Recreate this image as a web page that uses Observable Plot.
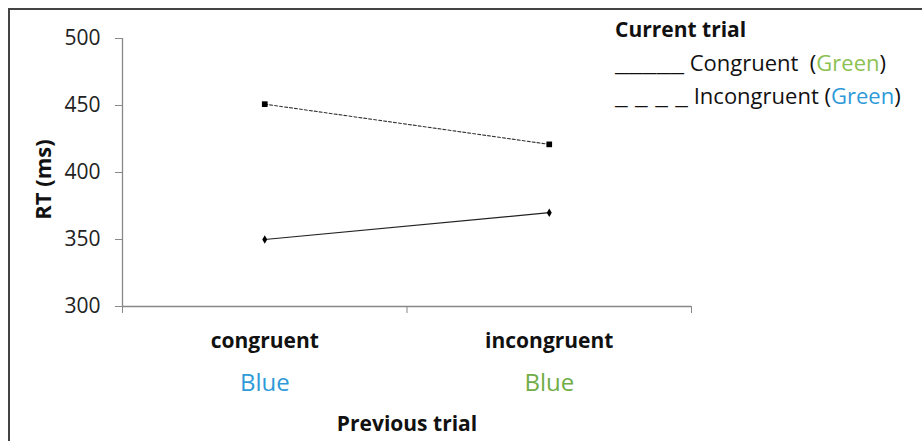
<!DOCTYPE html>
<html>
<head>
<meta charset="utf-8">
<script src="https://cdn.jsdelivr.net/npm/d3@7"></script>
<script src="https://cdn.jsdelivr.net/npm/@observablehq/plot@0.6"></script>
<style>
  html, body { margin: 0; padding: 0; background: #fff; }
  #wrap { position: relative; width: 922px; height: 441px; overflow: hidden; font-family: "Open Sans", sans-serif; }
  #frame { position: absolute; left: 8px; top: 8px; width: 930px; height: 460px; border-left: 2px solid #444; border-top: 2px solid #444; box-sizing: border-box; pointer-events: none; }
  #legend { position: absolute; left: 615px; top: 13px; font-size: 22px; line-height: 33px; color: #111; white-space: pre; }
  #legend .t { font-weight: bold; font-size: 21px; }
  #legend .lead { display: inline-block; transform-origin: left center; }
</style>
</head>
<body>
<div id="wrap">
  <div id="chart"></div>
  <div id="frame"></div>
  <div id="legend"></div>
</div>
<script>
// ---- data ----
const categories = ["congruent", "incongruent"];
const colorWords = ["Blue", "Blue"];
const colorWordColors = ["#2e9ad8", "#71ad47"];
const congruentRT = [350, 370];     // current trial congruent (solid)
const incongruentRT = [451, 421];   // current trial incongruent (dotted)
const yTicks = [300, 350, 400, 450, 500];
const legendTitle = "Current trial";
const legendItems = [
  {lead: "_____", prefix: " Congruent  (", word: "Green", suffix: ")", color: "#8cc152", leadWidth: 69},
  {lead: "_ _ _ _", prefix: " Incongruent (", word: "Green", suffix: ")", color: "#2e9ad8", leadWidth: 73}
];
const xTitle = "Previous trial";
const yTitle = "RT (ms)";

const pos = categories.map((c, i) => i + 0.5);
const solid = categories.map((c, i) => ({x: pos[i], y: congruentRT[i]}));
const dotted = categories.map((c, i) => ({x: pos[i], y: incongruentRT[i]}));
const labels = categories.map((c, i) => ({x: pos[i], y: 300, text: c, word: colorWords[i], color: colorWordColors[i]}));

const chart = Plot.plot({
  width: 922,
  height: 441,
  marginLeft: 122,
  marginRight: 231,
  marginTop: 38,
  marginBottom: 135,
  style: {fontFamily: "'Open Sans', sans-serif", background: "#fff"},
  x: {type: "linear", domain: [0, categories.length]},
  y: {domain: [300, 500]},
  marks: [
    Plot.axisY({ticks: yTicks, tickSize: 7, tickFormat: () => "", stroke: "#888", label: null}),
    Plot.text(yTicks, {x: 0, y: d => d, text: d => String(d), dx: -22, textAnchor: "end", fontSize: 21, fill: "#222"}),
    Plot.ruleX([0], {y1: 300, y2: 500, stroke: "#888", strokeWidth: 1.3}),
    Plot.ruleY([300], {x1: 0, x2: categories.length, stroke: "#888", strokeWidth: 1.3}),
    Plot.axisX({ticks: d3.range(categories.length + 1), tickSize: 7, tickFormat: () => "", stroke: "#888", label: null}),
    Plot.text(labels, {x: "x", y: "y", text: "text", dy: 35, fontSize: 21, fontWeight: "bold", fill: "#111"}),
    Plot.text(labels, {x: "x", y: "y", text: "word", dy: 77, fontSize: 24, fill: "color"}),
    Plot.text([xTitle], {frameAnchor: "bottom", dy: 124, fontSize: 21, fontWeight: "bold", fill: "#111"}),
    Plot.text([yTitle], {frameAnchor: "left", textAnchor: "middle", dx: -79, dy: 7, rotate: -90, fontSize: 22, fontWeight: "bold", fill: "#111"}),
    Plot.line(solid, {x: "x", y: "y", stroke: "#222", strokeWidth: 1.2}),
    Plot.line(dotted, {x: "x", y: "y", stroke: "#333", strokeWidth: 1.1, strokeDasharray: "3,2"}),
    Plot.dot(solid, {x: "x", y: "y", symbol: "diamond", r: 2.6, fill: "#000", stroke: "none"}),
    Plot.dot(dotted, {x: "x", y: "y", symbol: "square", r: 3.2, fill: "#000", stroke: "none"})
  ]
});
document.getElementById("chart").appendChild(chart);

const legend = document.getElementById("legend");
const t = document.createElement("div");
t.className = "t";
t.textContent = legendTitle;
legend.appendChild(t);
for (const it of legendItems) {
  const row = document.createElement("div");
  const l = document.createElement("span");
  l.className = "lead";
  l.textContent = it.lead;
  row.appendChild(l);
  row.appendChild(document.createTextNode(it.prefix));
  const s = document.createElement("span");
  s.style.color = it.color;
  s.textContent = it.word;
  row.appendChild(s);
  row.appendChild(document.createTextNode(it.suffix));
  legend.appendChild(row);
  const w = l.getBoundingClientRect().width;
  const k = it.leadWidth / w;
  l.style.transform = `scaleX(${k})`;
  l.style.marginRight = `${it.leadWidth - w}px`;
}
</script>
</body>
</html>
